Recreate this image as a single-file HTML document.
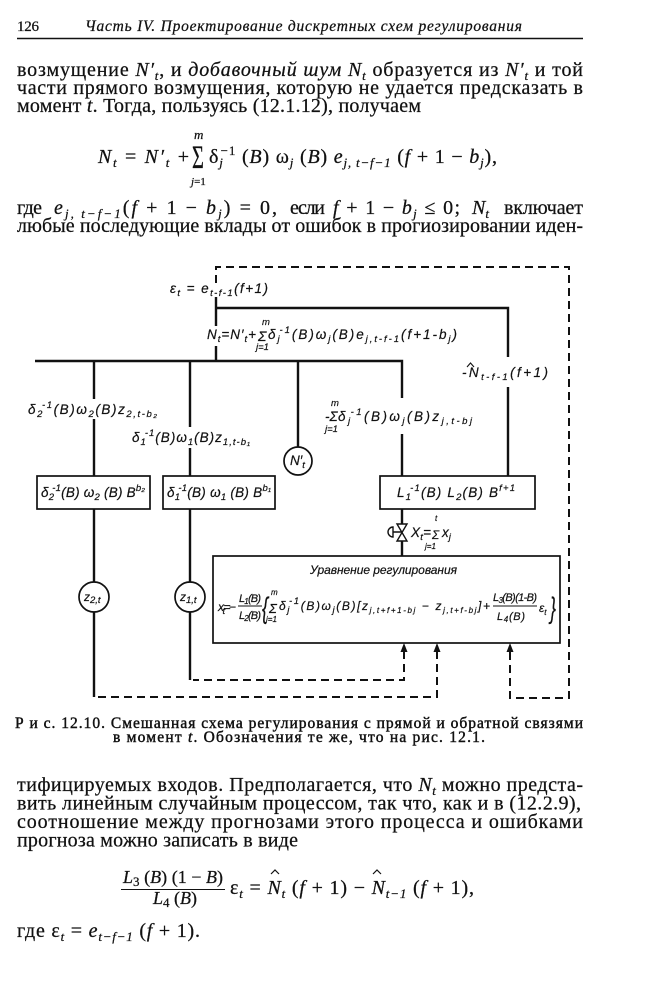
<!DOCTYPE html>
<html><head><meta charset="utf-8">
<style>
html,body{margin:0;padding:0;background:#fff;}
svg{display:block;}
.t{font-family:"Liberation Serif","DejaVu Serif",serif;font-size:20px;fill:#111;stroke:#111;stroke-width:0.25px;}
.i{font-style:italic;}
.s{font-size:13px;}
.cap{font-family:"Liberation Serif","DejaVu Serif",serif;font-size:15.5px;fill:#111;stroke:#111;stroke-width:0.45px;}
.d{font-family:"Liberation Sans","DejaVu Sans",sans-serif;font-style:italic;font-size:13.5px;fill:#111;stroke:#111;stroke-width:0.2px;}
.ds{font-size:9.5px;}
</style></head>
<body>
<svg width="667" height="990" viewBox="0 0 667 990" xmlns="http://www.w3.org/2000/svg">
<rect width="667" height="990" fill="#fff"/>

<!-- Header -->
<text class="t" x="17" y="31" style="font-size:15px" textLength="22">126</text>
<text class="t i" x="85" y="31" style="font-size:15.5px" textLength="437">Часть IV. Проектирование дискретных схем регулирования</text>
<line x1="17" y1="38.5" x2="583" y2="38.5" stroke="#111" stroke-width="1.6"/>

<!-- Paragraph 1 -->
<text class="t" x="17" y="76" textLength="566">возмущение <tspan class="i">N′</tspan><tspan class="s i" dy="4">t</tspan><tspan dy="-4">, и </tspan><tspan class="i">добавочный шум N</tspan><tspan class="s i" dy="4">t</tspan><tspan dy="-4"> образуется из </tspan><tspan class="i">N′</tspan><tspan class="s i" dy="4">t</tspan><tspan dy="-4"> и той</tspan></text>
<text class="t" x="17" y="94" textLength="566">части прямого возмущения, которую не удается предсказать в</text>
<text class="t" x="17" y="112" textLength="404">момент <tspan class="i">t</tspan>. Тогда, пользуясь (12.1.12), получаем</text>

<!-- Equation 1 -->
<text class="t" x="98" y="163" textLength="91"><tspan class="i">N</tspan><tspan class="s i" dy="4">t</tspan><tspan dy="-4"> = </tspan><tspan class="i">N′</tspan><tspan class="s i" dy="4">t</tspan><tspan dy="-4"> +</tspan></text>
<text class="t" transform="translate(192,168) scale(0.62,1)" x="0" y="0" style="font-size:33px">Σ</text>
<text class="t i" x="194" y="139" style="font-size:13px">m</text>
<text class="t" x="191" y="185" style="font-size:11px"><tspan class="i">j</tspan>=1</text>
<text class="t" x="209" y="163" textLength="288">δ<tspan class="s i" dy="4">j</tspan><tspan class="s" dy="-12" dx="-3">−1</tspan><tspan dy="8"> (</tspan><tspan class="i">B</tspan>) ω<tspan class="s i" dy="4">j</tspan><tspan dy="-4"> (</tspan><tspan class="i">B</tspan>) <tspan class="i">e</tspan><tspan class="s i" dy="4">j, t−f−1</tspan><tspan dy="-4"> (</tspan><tspan class="i">f</tspan> + 1 − <tspan class="i">b</tspan><tspan class="s i" dy="4">j</tspan><tspan dy="-4">),</tspan></text>

<!-- "где" line split into word groups -->
<text class="t" x="17" y="214" textLength="25">где</text>
<text class="t" x="54" y="214" textLength="223"><tspan class="i">e</tspan><tspan class="s i" dy="4">j, t−f−1</tspan><tspan dy="-4">(</tspan><tspan class="i">f</tspan> + 1 − <tspan class="i">b</tspan><tspan class="s i" dy="4">j</tspan><tspan dy="-4">) = 0,</tspan></text>
<text class="t" x="290" y="214" textLength="35">если</text>
<text class="t" x="333" y="214" textLength="127"><tspan class="i">f</tspan> + 1 − <tspan class="i">b</tspan><tspan class="s i" dy="4">j</tspan><tspan dy="-4"> ≤ 0;</tspan></text>
<text class="t" x="472" y="214"><tspan class="i">N</tspan><tspan class="s i" dy="4">t</tspan></text>
<text class="t" x="504" y="214" textLength="79">включает</text>
<text class="t" x="17" y="232" textLength="566">любые последующие вклады от ошибок в прогиозировании иден-</text>

<!-- DIAGRAM lines -->
<g stroke="#111" fill="none" stroke-width="2.4">
  <path d="M216,297 V326 M216,346 V361"/>
  <path d="M216,308 H508 V357 M508,387 V476"/>
  <path d="M35,361 H402 V398 M402,434 V476"/>
  <path d="M94,361 V399 M94,419 V476"/>
  <path d="M190,361 V427 M190,448 V476"/>
  <path d="M298,361 V447"/>
  <path d="M94,509 V582 M94,612 V697"/>
  <path d="M190,509 V582 M190,612 V680"/>
  <path d="M402,509 V524 M402,541 V556"/>
</g>
<g stroke="#111" fill="none" stroke-width="1.7">
  <circle cx="298" cy="461" r="14"/>
  <circle cx="94" cy="597" r="15"/>
  <circle cx="190" cy="597" r="15"/>
  <rect x="37" y="476" width="113" height="33"/>
  <rect x="163" y="476" width="112" height="33"/>
  <rect x="380" y="476" width="155" height="33"/>
  <rect x="213" y="556" width="347" height="87"/>
  <path d="M397,524 L407,524 L397,541 L407,541 Z" stroke-width="1.4"/>
  <path d="M393,527 A5,5 0 0 0 393,537 Z M393,532 H402" stroke-width="1.4"/>
  <line x1="238" y1="606" x2="262" y2="606" stroke-width="1"/>
  <line x1="493" y1="606" x2="537" y2="606" stroke-width="1"/>
  <polyline points="467,367 470.5,363 474,367" stroke-width="1.1"/>
</g>
<g stroke="#111" fill="none" stroke-width="2" stroke-dasharray="8 5">
  <path d="M216,283 V267 H569 V698 H510 V651"/>
  <path d="M437,651 V697 H97"/>
  <path d="M404,651 V680 H193"/>
</g>
<g fill="#111">
  <polygon points="404,643 400.5,652 407.5,652"/>
  <polygon points="437,643 433.5,652 440.5,652"/>
  <polygon points="510,643 506.5,652 513.5,652"/>
</g>

<!-- DIAGRAM labels -->
<text class="d" x="170" y="293" textLength="98">ε<tspan class="ds" dy="3">t</tspan><tspan dy="-3"> = e</tspan><tspan class="ds" dy="3">t-f-1</tspan><tspan dy="-3">(f+1)</tspan></text>

<text class="d" x="207" y="339" textLength="49">N<tspan class="ds" dy="3">t</tspan><tspan dy="-3">=N′</tspan><tspan class="ds" dy="3">t</tspan><tspan dy="-3">+</tspan></text>
<text class="d" x="258" y="341" style="font-size:14px">Σ</text>
<text class="d ds" x="262" y="325">m</text>
<text class="d ds" x="256" y="350">j=1</text>
<text class="d" x="268" y="339" textLength="189">δ<tspan class="ds" dy="3">j</tspan><tspan class="ds" dy="-9" dx="-2">-1</tspan><tspan dy="6">(B)ω</tspan><tspan class="ds" dy="3">j</tspan><tspan dy="-3">(B)e</tspan><tspan class="ds" dy="3">j,t-f-1</tspan><tspan dy="-3">(f+1-b</tspan><tspan class="ds" dy="3">j</tspan><tspan dy="-3">)</tspan></text>

<text class="d" x="462" y="377" textLength="86">-N<tspan class="ds" dy="3">t-f-1</tspan><tspan dy="-3">(f+1)</tspan></text>

<text class="d" x="28" y="414" textLength="129">δ<tspan class="ds" dy="3">2</tspan><tspan class="ds" dy="-9" dx="-2">-1</tspan><tspan dy="6">(B)ω</tspan><tspan class="ds" dy="3">2</tspan><tspan dy="-3">(B)z</tspan><tspan class="ds" dy="3">2,t-b₂</tspan></text>
<text class="d" x="132" y="442" textLength="118">δ<tspan class="ds" dy="3">1</tspan><tspan class="ds" dy="-9" dx="-2">-1</tspan><tspan dy="6">(B)ω</tspan><tspan class="ds" dy="3">1</tspan><tspan dy="-3">(B)z</tspan><tspan class="ds" dy="3">1,t-b₁</tspan></text>

<text class="d" x="325" y="421">-Σ</text>
<text class="d ds" x="331" y="406">m</text>
<text class="d ds" x="325" y="432">j=1</text>
<text class="d" x="338" y="421" textLength="134">δ<tspan class="ds" dy="3">j</tspan><tspan class="ds" dy="-9" dx="-2">-1</tspan><tspan dy="6">(B)ω</tspan><tspan class="ds" dy="3">j</tspan><tspan dy="-3">(B)z</tspan><tspan class="ds" dy="3">j,t-bj</tspan></text>

<text class="d" x="290" y="465">N′<tspan class="ds" dy="3">t</tspan></text>

<text class="d" x="41" y="497" textLength="104">δ<tspan class="ds" dy="3">2</tspan><tspan class="ds" dy="-9" dx="-2">-1</tspan><tspan dy="6">(B) ω</tspan><tspan class="ds" dy="3">2</tspan><tspan dy="-3"> (B) B</tspan><tspan class="ds" dy="-6">b₂</tspan></text>
<text class="d" x="167" y="497" textLength="104">δ<tspan class="ds" dy="3">1</tspan><tspan class="ds" dy="-9" dx="-2">-1</tspan><tspan dy="6">(B) ω</tspan><tspan class="ds" dy="3">1</tspan><tspan dy="-3"> (B) B</tspan><tspan class="ds" dy="-6">b₁</tspan></text>
<text class="d" x="397" y="497" textLength="118">L<tspan class="ds" dy="3">1</tspan><tspan class="ds" dy="-9" dx="-2">-1</tspan><tspan dy="6">(B) L</tspan><tspan class="ds" dy="3">2</tspan><tspan dy="-3">(B) B</tspan><tspan class="ds" dy="-6">f+1</tspan></text>

<text class="d" x="411" y="537" textLength="20">X<tspan class="ds" dy="3">t</tspan><tspan dy="-3">=</tspan></text>
<text class="d" x="432" y="539" style="font-size:12px">Σ</text>
<text class="d" x="435" y="521" style="font-size:8px">t</text>
<text class="d" x="425" y="549" style="font-size:8px">j=1</text>
<text class="d" x="442" y="537">x<tspan class="ds" dy="3">j</tspan></text>

<text class="d" x="84" y="601" style="font-size:12px">z<tspan class="ds" dy="2">2,t</tspan></text>
<text class="d" x="180" y="601" style="font-size:12px">z<tspan class="ds" dy="2">1,t</tspan></text>

<text class="d" x="310" y="574" style="font-size:12px" textLength="147">Уравнение регулирования</text>

<text class="d" x="218" y="611" style="font-size:12px" textLength="18">x<tspan class="ds" dy="3">t</tspan><tspan dy="-3">=−</tspan></text>
<text class="d" x="239" y="602" style="font-size:11px" textLength="22">L<tspan style="font-size:8px" dy="2">1</tspan><tspan dy="-2">(B)</tspan></text>
<text class="d" x="239" y="619" style="font-size:11px" textLength="22">L<tspan style="font-size:8px" dy="2">2</tspan><tspan dy="-2">(B)</tspan></text>
<text class="d" x="262" y="618" style="font-size:30px" textLength="6" lengthAdjust="spacingAndGlyphs">{</text>
<text class="d" x="269" y="613" style="font-size:13px">Σ</text>
<text class="d" x="271" y="595" style="font-size:8px">m</text>
<text class="d" x="266" y="622" style="font-size:8px">j=1</text>
<text class="d" x="279" y="610" style="font-size:12px" textLength="211">δ<tspan class="ds" dy="3">j</tspan><tspan class="ds" dy="-9" dx="-2">-1</tspan><tspan dy="6">(B)ω</tspan><tspan class="ds" dy="3">j</tspan><tspan dy="-3">(B)[z</tspan><tspan style="font-size:8px" dy="3">j,t+f+1-bj</tspan><tspan dy="-3"> − z</tspan><tspan style="font-size:8px" dy="3">j,t+f-bj</tspan><tspan dy="-3">]+</tspan></text>
<text class="d" x="493" y="601" style="font-size:11px" textLength="44">L<tspan style="font-size:8px" dy="2">3</tspan><tspan dy="-2">(B)(1-B)</tspan></text>
<text class="d" x="497" y="620" style="font-size:11px" textLength="28">L<tspan style="font-size:8px" dy="2">4</tspan><tspan dy="-2">(B)</tspan></text>
<text class="d" x="539" y="612" style="font-size:12px">ε<tspan style="font-size:8px" dy="3">t</tspan></text>
<text class="d" x="550" y="618" style="font-size:30px" textLength="6" lengthAdjust="spacingAndGlyphs">}</text>

<!-- Caption -->
<text class="cap" x="15" y="728" textLength="568">Р и с. 12.10. Смешанная схема регулирования с прямой и обратной связями</text>
<text class="cap" x="113" y="742" textLength="372">в момент <tspan class="i">t</tspan>. Обозначения те же, что на рис. 12.1.</text>

<!-- Paragraph 2 -->
<text class="t" x="17" y="791" textLength="566">тифицируемых входов. Предполагается, что <tspan class="i">N</tspan><tspan class="s i" dy="4">t</tspan><tspan dy="-4"> можно предста-</tspan></text>
<text class="t" x="17" y="809.5" textLength="564">вить линейным случайным процессом, так что, как и в (12.2.9),</text>
<text class="t" x="17" y="828" textLength="566">соотношение между прогнозами этого процесса и ошибками</text>
<text class="t" x="17" y="846.5" textLength="281">прогноза можно записать в виде</text>

<!-- Equation 2 -->
<text class="t" x="123" y="883" style="font-size:18px" textLength="100"><tspan class="i">L</tspan><tspan class="s" dy="3">3</tspan><tspan dy="-3"> (</tspan><tspan class="i">B</tspan>) (1 − <tspan class="i">B</tspan>)</text>
<line x1="121" y1="889.5" x2="225" y2="889.5" stroke="#111" stroke-width="1.1"/>
<text class="t" x="153" y="904" style="font-size:18px" textLength="44"><tspan class="i">L</tspan><tspan class="s" dy="3">4</tspan><tspan dy="-3"> (</tspan><tspan class="i">B</tspan>)</text>
<text class="t" x="230" y="894" textLength="244">ε<tspan class="s i" dy="4">t</tspan><tspan dy="-4"> = </tspan><tspan class="i">N</tspan><tspan class="s i" dy="4">t</tspan><tspan dy="-4"> (</tspan><tspan class="i">f</tspan> + 1) − <tspan class="i">N</tspan><tspan class="s i" dy="4">t−1</tspan><tspan dy="-4"> (</tspan><tspan class="i">f</tspan> + 1),</text>
<g stroke="#111" fill="none" stroke-width="1.2">
  <polyline points="271,874 275,870 279,874"/>
  <polyline points="373,874 377,870 381,874"/>
</g>

<text class="t" x="17" y="937" textLength="183">где ε<tspan class="s i" dy="4">t</tspan><tspan dy="-4"> = </tspan><tspan class="i">e</tspan><tspan class="s i" dy="4">t−f−1</tspan><tspan dy="-4"> (</tspan><tspan class="i">f</tspan> + 1).</text>
</svg>
</body></html>
